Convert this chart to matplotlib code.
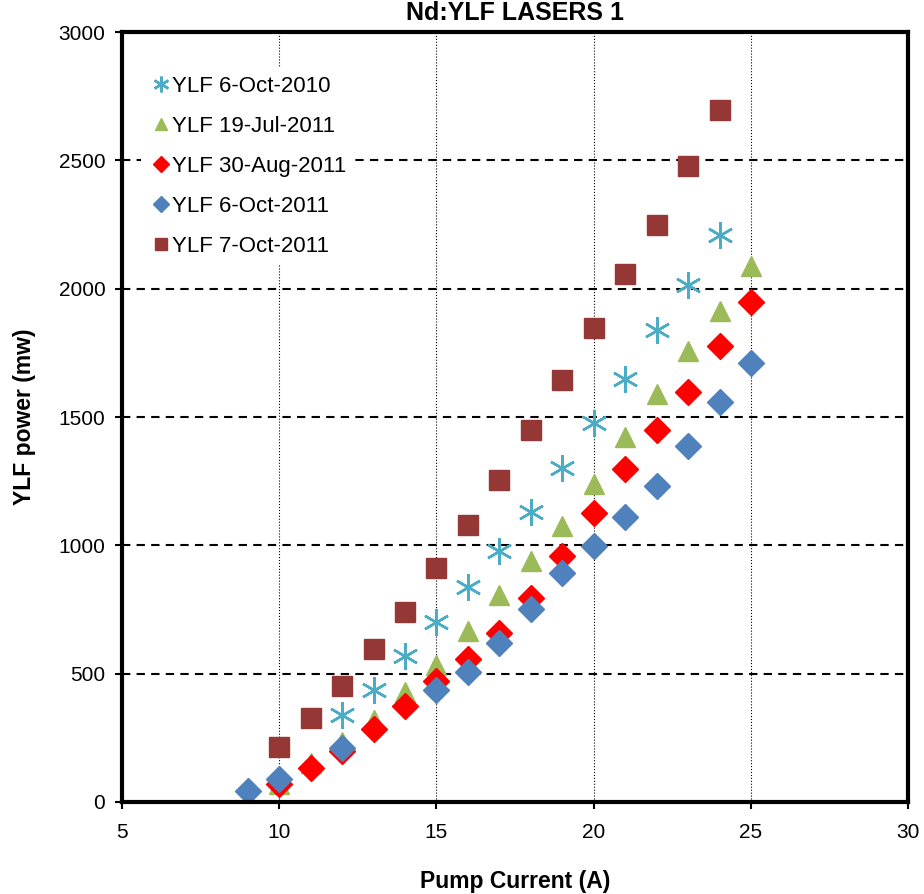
import matplotlib.pyplot as plt

plt.rcParams['font.family'] = ['Liberation Sans', 'DejaVu Sans']

# YLF 6-Oct-2010
x_2010 = [12, 13, 14, 15, 16, 17, 18, 19, 20, 21, 22, 23, 24]
y_2010 = [339, 436, 569, 701, 838, 978, 1130, 1301, 1476, 1648, 1839, 2014, 2209]
# YLF 19-Jul-2011
x_jul = [10, 11, 12, 13, 14, 15, 16, 17, 18, 19, 20, 21, 22, 23, 24, 25]
y_jul = [70, 152, 234, 320, 428, 534, 666, 806, 939, 1075, 1239, 1422, 1589, 1757, 1913, 2088]
# YLF 30-Aug-2011
x_aug = [10, 11, 12, 13, 14, 15, 16, 17, 18, 19, 20, 21, 22, 23, 24, 25]
y_aug = [68, 132, 199, 284, 374, 471, 557, 658, 795, 958, 1126, 1297, 1449, 1597, 1776, 1948]
# YLF 6-Oct-2011
x_oct6 = [9, 10, 12, 15, 16, 17, 18, 19, 20, 21, 22, 23, 24, 25]
y_oct6 = [43, 90, 210, 436, 506, 619, 752, 892, 997, 1110, 1231, 1387, 1558, 1710]
# YLF 7-Oct-2011
x_oct7 = [10, 11, 12, 13, 14, 15, 16, 17, 18, 19, 20, 21, 22, 23, 24]
y_oct7 = [214, 327, 452, 596, 740, 912, 1079, 1254, 1449, 1644, 1847, 2057, 2248, 2478, 2696]

fig = plt.figure(figsize=(9.24, 8.94), dpi=100)
ax = fig.add_axes([0.132, 0.103, 0.851, 0.861])

ax.plot(x_2010, y_2010, ls='none', marker=(6, 2, 0), ms=19, mew=1.8, color='#4BACC6', label='YLF 6-Oct-2010')
ax.plot(x_jul, y_jul, ls='none', marker='^', ms=15, color='#9BBB59', label='YLF 19-Jul-2011')
ax.plot(x_aug, y_aug, ls='none', marker='D', ms=13, color='#FF0000', label='YLF 30-Aug-2011')
ax.plot(x_oct6, y_oct6, ls='none', marker='D', ms=13, color='#4F81BD', label='YLF 6-Oct-2011')
ax.plot(x_oct7, y_oct7, ls='none', marker='s', ms=15, color='#953735', label='YLF 7-Oct-2011')

ax.set_xlim(5, 30)
ax.set_ylim(0, 3000)
ax.set_xticks(range(5, 31, 5))
ax.set_yticks(range(0, 3001, 500))
ax.yaxis.grid(True, color='black', ls=(0, (4, 3)), lw=1.5)
ax.xaxis.grid(True, color='black', ls=':', lw=0.8)
ax.set_axisbelow(True)
for s in ax.spines.values():
    s.set_linewidth(3)
ax.tick_params(labelsize=15, width=1.5, length=5)
ax.tick_params(axis='y', pad=7)
ax.tick_params(axis='x', pad=10)

ax.set_title('Nd:YLF LASERS 1', fontsize=18, fontweight='bold', pad=9)
ax.set_xlabel('Pump Current (A)', fontsize=16.5, fontweight='bold', labelpad=20)
ax.set_ylabel('YLF power (mw)', fontsize=16.5, fontweight='bold', labelpad=16)

# white box without border, hides grid behind the legend like the original
leg = ax.legend(loc='upper left', bbox_to_anchor=(0.010, 0.969), frameon=True, fancybox=False,
                facecolor='white', edgecolor='none', framealpha=1, fontsize=16,
                handletextpad=0.0, markerscale=0.6, labelspacing=0.85, handlelength=1.0,
                borderpad=0.4)

plt.savefig('out.png')
